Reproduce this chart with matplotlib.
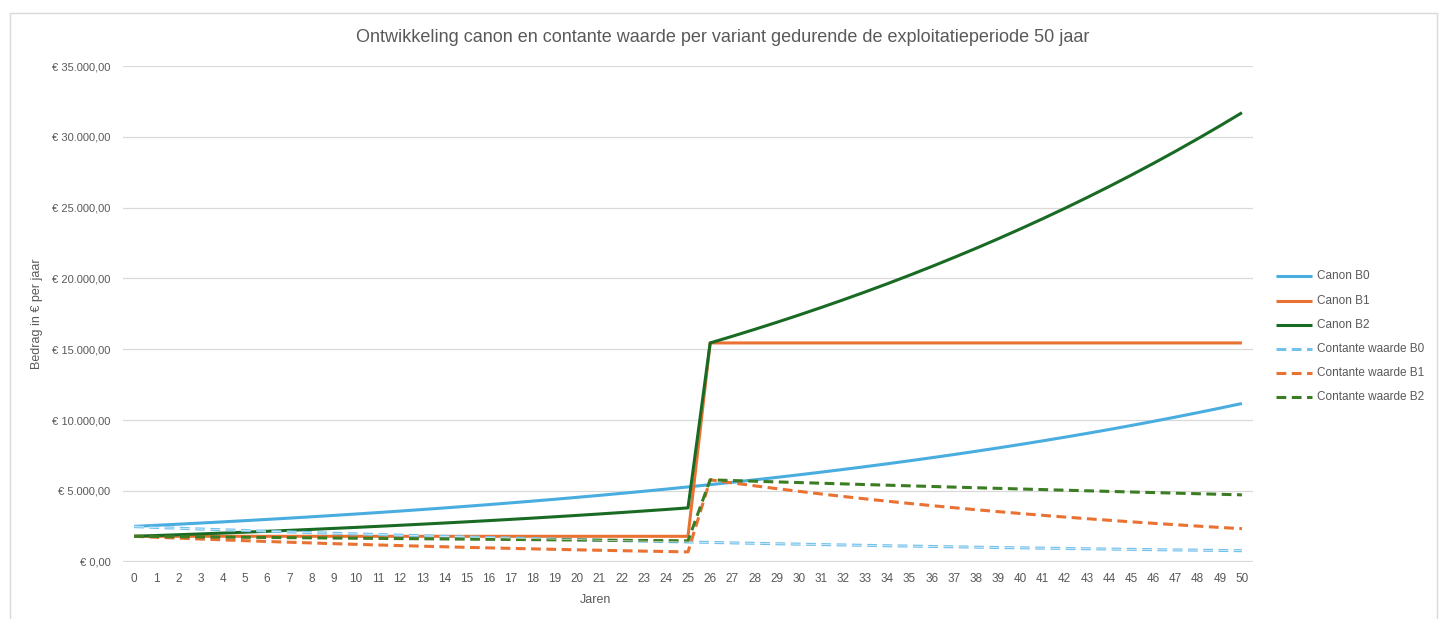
import matplotlib
matplotlib.use("Agg")
import matplotlib.pyplot as plt
from matplotlib.lines import Line2D
from matplotlib.patches import Rectangle

plt.rcParams['font.family'] = ['Liberation Sans Narrow', 'Liberation Sans', 'DejaVu Sans']

# ---- data -------------------------------------------------------------
years = list(range(0, 51))

canon_b0 = [2500, 2576, 2654, 2735, 2818, 2904, 2992, 3083, 3177, 3273,
            3373, 3475, 3581, 3690, 3802, 3918, 4037, 4160, 4286, 4416,
            4551, 4689, 4832, 4978, 5130, 5286, 5446, 5612, 5783, 5958,
            6140, 6326, 6519, 6717, 6921, 7131, 7348, 7571, 7802, 8039,
            8283, 8535, 8795, 9062, 9337, 9621, 9914, 10215, 10526, 10846,
            11175]

canon_b1 = [1800] * 26 + [15450] * 25

canon_b2 = [1800, 1855, 1911, 1969, 2029, 2091, 2154, 2220, 2287, 2357,
            2428, 2502, 2578, 2657, 2738, 2821, 2906, 2995, 3086, 3180,
            3276, 3376, 3479, 3585, 3693, 3806, 15450, 15920, 16404, 16902,
            17416, 17946, 18491, 19053, 19632, 20229, 20844, 21479, 22131, 22804,
            23498, 24212, 24947, 25706, 26487, 27292, 28122, 28978, 29859, 30767,
            31702]

cw_b0 = [2480, 2423, 2368, 2314, 2261, 2210, 2160, 2110, 2062, 2015,
         1969, 1924, 1880, 1838, 1796, 1755, 1715, 1676, 1637, 1600,
         1564, 1528, 1493, 1459, 1426, 1400, 1368, 1336, 1305, 1275,
         1246, 1217, 1189, 1161, 1134, 1108, 1082, 1057, 1033, 1009,
         986, 963, 941, 920, 899, 878, 858, 839, 820, 801,
         783]

cw_b1 = [1800, 1733, 1669, 1607, 1548, 1490, 1435, 1382, 1331, 1281,
         1234, 1188, 1144, 1102, 1061, 1021, 984, 947, 912, 878,
         846, 814, 784, 755, 727, 700, 5786, 5572, 5365, 5166,
         4975, 4790, 4613, 4442, 4277, 4119, 3966, 3819, 3677, 3541,
         3410, 3283, 3162, 3044, 2932, 2823, 2718, 2618, 2521, 2427,
         2337]

cw_b2 = [1800, 1786, 1772, 1758, 1744, 1731, 1717, 1704, 1691, 1678,
         1664, 1651, 1638, 1626, 1613, 1601, 1588, 1576, 1564, 1551,
         1539, 1527, 1515, 1504, 1492, 1480, 5786, 5737, 5689, 5641,
         5594, 5547, 5500, 5454, 5408, 5363, 5318, 5273, 5229, 5185,
         5141, 5098, 5055, 5013, 4971, 4929, 4888, 4847, 4806, 4766,
         4726]

series_names = ["Canon B0", "Canon B1", "Canon B2",
                "Contante waarde B0", "Contante waarde B1", "Contante waarde B2"]

y_ticks = [0, 5000, 10000, 15000, 20000, 25000, 30000, 35000]
y_tick_labels = ["€ 0,00", "€ 5.000,00", "€ 10.000,00", "€ 15.000,00",
                 "€ 20.000,00", "€ 25.000,00", "€ 30.000,00", "€ 35.000,00"]

title = "Ontwikkeling canon en contante waarde per variant gedurende de exploitatieperiode 50 jaar"
x_title = "Jaren"
y_title = "Bedrag in € per jaar"

# ---- styling ----------------------------------------------------------
W, H = 1440, 619
TEXT = "#595959"
GRID = "#D9D9D9"
LW = 2.2
DASH = (3.2, 1.8)
CORE_LW = 0.5

styles = [
    dict(color="#4AADE0", lw=LW, ls="-"),
    dict(color="#E97132", lw=LW, ls="-"),
    dict(color="#196B24", lw=LW, ls="-"),
    dict(color="#74C2EC", lw=LW, ls=(0, DASH)),
    dict(color="#E97132", lw=LW, ls=(0, DASH)),
    dict(color="#3B7D23", lw=LW, ls=(0, DASH)),
]
all_series = [canon_b0, canon_b1, canon_b2, cw_b0, cw_b1, cw_b2]


def fx(px):
    return px / W


def fy(py):
    return 1 - py / H


fig = plt.figure(figsize=(W / 100, H / 100), dpi=100)
fig.patch.set_facecolor("white")

# chart area frame
fig.add_artist(Rectangle((fx(10), fy(640)), fx(1437) - fx(10), fy(13) - fy(640),
                         transform=fig.transFigure, fill=False,
                         edgecolor=GRID, lw=1.0))

ax = fig.add_axes([fx(123), fy(561.8), fx(1253) - fx(123), fy(66) - fy(561.8)])
ax.set_xlim(-0.5, 50.5)
ax.set_ylim(0, 35000)
for s in ax.spines.values():
    s.set_visible(False)
ax.set_yticks(y_ticks)
ax.set_yticklabels(y_tick_labels)
ax.set_xticks(years)
ax.set_xticklabels([str(y) for y in years])
ax.tick_params(axis="both", length=0, colors=TEXT, labelsize=8.5)
ax.tick_params(axis="y", pad=9, labelsize=8)
ax.tick_params(axis="x", pad=8)
ax.yaxis.grid(True, color=GRID, lw=0.9)
ax.set_axisbelow(True)
ax.axhline(0, color=GRID, lw=1.6, zorder=1)

for vals, st in zip(all_series, styles):
    ax.plot(years, vals, color=st["color"], lw=st["lw"], ls=st["ls"],
            solid_capstyle="butt", dash_capstyle="butt", zorder=3)

# thin light core inside the dashes of the B0 present-value line
core_dash = (DASH[0] * LW / CORE_LW, DASH[1] * LW / CORE_LW)
ax.plot(years, cw_b0, color="white", lw=CORE_LW, ls=(0, core_dash),
        dash_capstyle="butt", zorder=3.1, alpha=0.85)

# titles
fig.text(fx(723), fy(37), title, ha="center", va="center", fontsize=13, color=TEXT)
fig.text(fx(596), fy(600), x_title, ha="center", va="center", fontsize=9, color=TEXT)
fig.text(fx(37), fy(314), y_title, ha="center", va="center", rotation=90,
         fontsize=9, color=TEXT)

# legend
row_y = [276, 301, 325, 349, 373, 397]
for name, st, ry in zip(series_names, styles, row_y):
    fig.add_artist(Line2D([fx(1276), fx(1312)], [fy(ry), fy(ry)],
                          transform=fig.transFigure, color=st["color"],
                          lw=st["lw"], ls=st["ls"], dash_capstyle="butt",
                          solid_capstyle="butt"))
    fig.text(fx(1317), fy(ry), name, ha="left", va="center", fontsize=8.5, color=TEXT)

fig.savefig("out.png", dpi=100, facecolor="white")
